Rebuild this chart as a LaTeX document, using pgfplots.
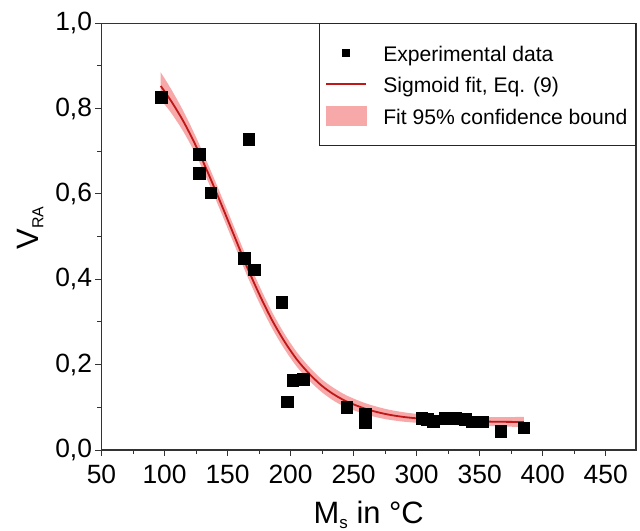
\documentclass[border=0pt]{standalone}
\usepackage{fontspec}
\setmainfont{Liberation Sans}
\usepackage{pgfplots}
\usepackage{pgfplotstable}
\pgfplotsset{compat=1.18}
\usepgfplotslibrary{fillbetween}
\definecolor{fitred}{RGB}{192,24,24}
\definecolor{bandpink}{RGB}{247,168,168}

\pgfplotstableread{
x y
97.2 0.827
127.6 0.693
127.6 0.648
136.7 0.603
163.3 0.449
166.8 0.728
171.0 0.423
193.0 0.346
197.5 0.113
201.7 0.163
210.2 0.166
244.6 0.100
259.1 0.084
259.1 0.065
304.1 0.074
308.5 0.072
313.3 0.068
322.6 0.074
330.6 0.074
338.5 0.072
343.8 0.066
352.5 0.066
366.8 0.044
385.0 0.052
}\expdata

\pgfplotstableread{
x y lo up
97 0.853 0.821 0.885
105 0.819 0.791 0.847
115 0.770 0.746 0.794
125 0.712 0.691 0.733
135 0.646 0.626 0.666
145 0.576 0.556 0.596
155 0.504 0.484 0.524
165 0.432 0.412 0.452
175 0.366 0.346 0.386
185 0.306 0.287 0.325
195 0.255 0.237 0.273
205 0.212 0.195 0.229
215 0.178 0.162 0.194
225 0.150 0.135 0.165
235 0.129 0.114 0.144
245 0.113 0.099 0.127
260 0.096 0.083 0.109
275 0.0845 0.0725 0.0965
290 0.0773 0.0663 0.0883
310 0.0717 0.0617 0.0817
330 0.0686 0.0586 0.0786
350 0.0669 0.0569 0.0769
370 0.0660 0.0550 0.0770
385 0.0657 0.0537 0.0777
}\fitdata

\begin{document}
\begin{tikzpicture}
\begin{axis}[
  name=ax,
  scale only axis,
  width=534.5bp, height=426.7bp,
  xmin=50, xmax=474, ymin=0, ymax=1,
  xtick={50,100,...,450},
  ytick={0,0.2,0.4,0.6,0.8,1.0},
  minor x tick num=1, minor y tick num=1,
  xtick pos=bottom, ytick pos=left,
  tick align=outside,
  major tick length=6bp, minor tick length=4bp,
  every tick/.style={black!80, line width=1bp},
  axis line style={black!80, line width=1.2bp},
  /pgf/number format/assume math mode=true,
  ticklabel style={font=\fontsize{26.5}{30}\selectfont},
  yticklabel style={/pgf/number format/fixed, /pgf/number format/fixed zerofill,
    /pgf/number format/precision=1, /pgf/number format/use comma},
  xticklabel style={/pgf/number format/fixed, yshift=-6bp},
  xlabel={M\raisebox{-5bp}{\fontsize{17}{20}\selectfont s} in °C},
  ylabel={V\raisebox{-5bp}{\fontsize{16}{20}\selectfont RA}},
  xlabel style={font=\fontsize{31}{36}\selectfont, at={(axis description cs:0.5,0)}, anchor=base, yshift=-73bp},
  ylabel style={font=\fontsize{31}{36}\selectfont, at={(axis description cs:0,0.52)}, anchor=base, yshift=63bp},
  legend style={at={(axis description cs:1,1)}, anchor=north east,
    draw=black!85, line width=1bp, fill=white,
    font=\fontsize{21.2}{25}\selectfont,
    inner xsep=6bp, inner ysep=16.5bp,
    nodes={inner sep=2bp, text height=19bp, text depth=2bp},
    /tikz/every odd column/.append style={column sep=14bp},
    row sep=6.7bp},
  legend cell align=left,
]
\addlegendimage{legend image code/.code={\fill[black] (16.5bp,-3.6bp) rectangle (23.5bp,3.6bp);}}
\addlegendentry{Experimental data}
\addlegendimage{legend image code/.code={\draw[fitred, line width=2bp] (0bp,0bp) -- (40bp,0bp);}}
\addlegendentry{Sigmoid fit, Eq. (9)}
\addlegendimage{legend image code/.code={\fill[bandpink] (0bp,-9.5bp) rectangle (40bp,9.5bp);}}
\addlegendentry{Fit 95\% confidence bound}

\addplot[name path=U, draw=none, smooth, forget plot] table[x=x, y=up] {\fitdata};
\addplot[name path=L, draw=none, smooth, forget plot] table[x=x, y=lo] {\fitdata};
\addplot[bandpink, draw=none, forget plot] fill between[of=U and L];
\addplot[fitred, line width=1.8bp, smooth, forget plot] table[x=x, y=y] {\fitdata};
\addplot[only marks, mark=square*, mark size=5.8bp, black, forget plot] table[x=x, y=y] {\expdata};
\end{axis}
\pgfresetboundingbox
\path ([shift={(-101.5bp,-81bp)}]ax.south west) rectangle ([shift={(4bp,23.3bp)}]ax.north east);
\end{tikzpicture}
\end{document}
